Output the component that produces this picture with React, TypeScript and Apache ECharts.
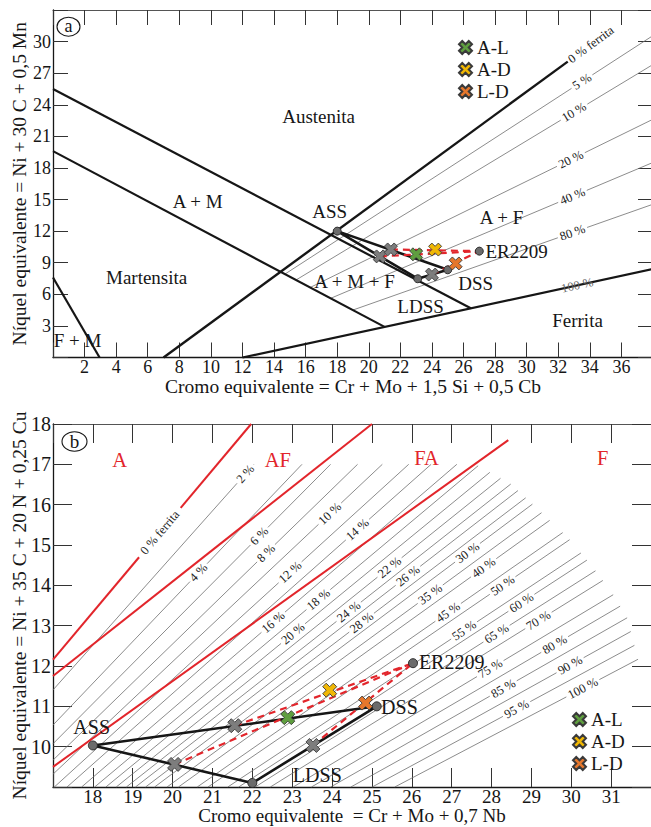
import React, { useEffect, useRef } from 'react';
import * as echarts from 'echarts';

const FONT = 'Liberation Serif';
const RED = '#e2252b';
const INK = '#161616';
const XMARK = 'path://M3,0L6,3L9,0L12,3L9,6L12,9L9,12L6,9L3,12L0,9L3,6L0,3Z';

// ================= (a) Schaeffler diagram =================
const A_X = { min: 0, max: 38, step: 2 };
const A_Y = { min: 0, max: 33, step: 3 };

const aLineFM = [[0, 7.6], [2.95, 0]];
const aLineAM = [[0, 19.6], [21.0, 2.91]];
const aLineA = [[0, 25.5], [26.46, 4.67]];
const aLineFerrite0 = [[7, 0], [32.6, 28.1]];
const aLineFerrite100 = [[12, 0], [38, 8.4]];
const aFerrite100LabelAt = [33.2, 6.85];

const aFerriteNames = ['5 %', '10 %', '20 %', '40 %', '80 %'];
const aFerriteStarts = [[14.7, 7.93], [15.4, 7.37], [16.3, 6.66], [17.6, 5.63], [19.0, 4.51]];
const aFerriteLabelPts = [[33.5, 26.2], [33.0, 23.3], [32.8, 18.8], [32.9, 15.3], [32.9, 11.86]];

const aASS = [18, 12];
const aDSS = [25.0, 8.33];
const aLDSS = [23.1, 7.48];
const aER = [27.0, 10.1];
const aMixAL = [20.7, 9.6];
const aMixAD = [21.4, 10.26];
const aMixLD = [24.0, 7.88];
const aAL = [23.0, 9.8];
const aAD = [24.2, 10.25];
const aLD = [25.5, 8.93];

const aTextNames = ['Austenita', 'A + M', 'Martensita', 'F + M', 'A + M + F', 'A + F', 'Ferrita', 'ASS', 'LDSS', 'DSS', 'ER2209'];
const aTextPos = [[16.82, 22.84], [9.16, 14.77], [5.93, 7.55], [1.56, 1.66], [19.1, 7.17], [28.41, 13.25], [33.22, 3.56], [17.52, 13.82], [23.28, 4.89], [26.77, 6.98], [29.36, 10.11]];

// ================= (b) WRC-1992 diagram =================
const B_X = { min: 17, max: 32, step: 1 };
const B_Y = { min: 9, max: 18, step: 1 };

const bRed0 = [[17, 12.16], [21.97, 18]];
const bRed0LabelAt = [19.68, 15.31];
const bRedAFFA = [[17, 11.75], [25, 18]];
const bRedFAF = [[17, 9.5], [28.42, 17.6]];

const bFnNames = ['2 %', '4 %', '6 %', '8 %', '10 %', '12 %', '14 %', '16 %', '18 %', '20 %', '22 %', '24 %', '26 %', '28 %', '30 %', '35 %', '40 %', '45 %', '50 %', '55 %', '60 %', '65 %', '70 %', '75 %', '80 %', '85 %', '90 %', '95 %', '100 %'];
const bFnSlopes = [1.11, 1.035, 0.995, 0.96, 0.93, 0.9, 0.876, 0.85, 0.828, 0.81, 0.794, 0.779, 0.766, 0.752, 0.74, 0.724, 0.71, 0.688, 0.676, 0.655, 0.644, 0.628, 0.614, 0.594, 0.579, 0.564, 0.549, 0.534, 0.519];
const bFnLabelPts = [[21.8, 16.78], [20.72, 14.25], [22.09, 15.3], [22.34, 14.8], [23.95, 15.77], [22.97, 14.3], [24.54, 15.49], [22.59, 13.01], [23.67, 13.63], [23.09, 12.72], [25.29, 14.63], [24.42, 13.34], [25.79, 14.38], [24.79, 13.01], [27.29, 14.95], [26.44, 13.81], [27.77, 14.48], [26.94, 13.29], [28.24, 14.05], [27.34, 12.84], [28.74, 13.58], [28.12, 12.81], [29.17, 13.14], [27.99, 11.9], [29.59, 12.52], [28.29, 11.45], [29.97, 12.02], [28.62, 10.95], [30.29, 11.45]];
const bFnPivot = [5.4, -1.47];
const bFnEndEnvelope = [[17, 17.0], [27.6, 17.0], [28.5, 16.5], [29.2, 15.85], [29.9, 15.2], [30.5, 14.5], [31.0, 13.85], [31.4, 13.2], [31.72, 12.0], [32, 11.0]];

const bASS = [18, 10.03];
const bDSS = [25.12, 11.0];
const bLDSS = [22.0, 9.1];
const bER = [26.03, 12.07];
const bMixAL = [20.05, 9.56];
const bMixAD = [21.56, 10.52];
const bMixLD = [23.52, 10.03];
const bAL = [22.89, 10.72];
const bAD = [23.94, 11.4];
const bLD = [24.84, 11.08];

const bRegionNames = ['A', 'AF', 'FA', 'F'];
const bRegionPos = [[18.67, 17.11], [22.64, 17.11], [26.37, 17.16], [30.79, 17.16]];
const bPointNames = ['ASS', 'LDSS', 'DSS', 'ER2209'];
const bPointPos = [[17.97, 10.48], [23.63, 9.29], [25.69, 10.98], [27.0, 12.09]];

const LEGEND_NAMES = ['A-L', 'A-D', 'L-D'];
const COL_AL = '#5f9e3f';
const COL_AD = '#f0b705';
const COL_LD = '#e5772c';

// ================= helpers =================
type Pt = number[];
type LL = { p0: Pt; p1: Pt; color: string; width: number; label?: string; at?: Pt; mode?: 'gap' | 'end' | 'over'; textColor?: string; fontSize?: number };

function textW(s: string, fs: number) {
  let w = 0;
  for (const ch of s) w += ch === ' ' ? 0.25 : ch === '%' ? 0.833 : /[0-9]/.test(ch) ? 0.5 : 0.42;
  return w * fs;
}

const seg = (data: Pt[], xi: number, yi: number, color: string, width: number, z: number, dashed = false) => ({
  type: 'line', xAxisIndex: xi, yAxisIndex: yi, data, symbol: 'none', silent: true, z,
  lineStyle: { color, width, type: dashed ? [7, 5] : 'solid', cap: 'butt', join: 'round' },
});

const marks = (name: string | undefined, data: Pt[], xi: number, yi: number, symbol: string, size: number, color: string, border: string, z: number) => ({
  type: 'scatter', name, xAxisIndex: xi, yAxisIndex: yi, data, symbol, symbolSize: size, silent: true, z,
  itemStyle: { color, borderColor: border, borderWidth: 0.9, opacity: 1 },
});

const texts = (names: string[], pos: Pt[], xi: number, yi: number, size: number, color: string, z: number) => ({
  type: 'custom', xAxisIndex: xi, yAxisIndex: yi, silent: true, z,
  data: pos.map((p) => [p[0], p[1]]),
  renderItem: (params: any, api: any) => {
    const c = api.coord([api.value(0), api.value(1)]);
    return { type: 'text', x: c[0], y: c[1], style: { text: names[params.dataIndex], fill: color, fontSize: size, fontFamily: FONT, align: 'center', verticalAlign: 'middle' } };
  },
});

const lineLabels = (items: LL[], xi: number, yi: number, z: number) => ({
  type: 'custom', xAxisIndex: xi, yAxisIndex: yi, silent: true, z,
  data: items.map((it) => [it.p0[0], it.p0[1]]),
  renderItem: (params: any, api: any) => {
    const it = items[params.dataIndex];
    const a = api.coord(it.p0);
    const b = api.coord(it.p1);
    const dx = b[0] - a[0], dy = b[1] - a[1];
    const len = Math.hypot(dx, dy);
    const ux = dx / len, uy = dy / len;
    const rot = Math.atan2(-dy, dx);
    const st = { stroke: it.color, lineWidth: it.width, lineCap: 'butt' };
    const mk = (t1: number, t2: number) => ({ type: 'line', shape: { x1: a[0] + ux * t1, y1: a[1] + uy * t1, x2: a[0] + ux * t2, y2: a[1] + uy * t2 }, style: st });
    const fs = it.fontSize ?? 12.5;
    const ts = (text: string, align: string) => ({ text, fill: it.textColor ?? '#222', fontSize: fs, fontFamily: FONT, align, verticalAlign: 'middle' });
    const children: any[] = [];
    if (!it.label) {
      children.push(mk(0, len));
    } else if (it.mode === 'end') {
      children.push(mk(0, len));
      children.push({ type: 'text', x: b[0] + ux * 2, y: b[1] + uy * 2, rotation: rot, style: ts(it.label, 'left') });
    } else {
      const c = api.coord(it.at);
      const t = (c[0] - a[0]) * ux + (c[1] - a[1]) * uy;
      if (it.mode === 'over') {
        children.push(mk(0, len));
      } else {
        const half = textW(it.label, fs) / 2 + 2.5;
        if (t - half > 0) children.push(mk(0, t - half));
        if (t + half < len) children.push(mk(t + half, len));
      }
      children.push({ type: 'text', x: a[0] + ux * t, y: a[1] + uy * t, rotation: rot, style: ts(it.label, 'center') });
    }
    return { type: 'group', children };
  },
});

function envY(x: number) {
  const e = bFnEndEnvelope;
  if (x <= e[0][0]) return e[0][1];
  for (let i = 1; i < e.length; i++) {
    if (x <= e[i][0]) {
      const [x0, y0] = e[i - 1];
      const [x1, y1] = e[i];
      return y0 + ((y1 - y0) * (x - x0)) / (x1 - x0);
    }
  }
  return e[e.length - 1][1];
}

function buildFnItems(): LL[] {
  const [px, py] = bFnPivot;
  return bFnNames.map((nm, i) => {
    const s = bFnSlopes[i];
    const f = (x: number) => py + s * (x - px);
    const p0 = f(B_X.min) >= B_Y.min ? [B_X.min, f(B_X.min)] : [px + (B_Y.min - py) / s, B_Y.min];
    let lo = bFnLabelPts[i][0];
    let hi = B_X.max;
    let xe = hi;
    if (f(hi) > envY(hi)) {
      for (let k = 0; k < 50; k++) {
        const m = (lo + hi) / 2;
        if (f(m) > envY(m)) hi = m; else lo = m;
      }
      xe = (lo + hi) / 2;
    }
    return { p0, p1: [xe, f(xe)], color: '#6e6e6e', width: 0.8, label: nm, at: bFnLabelPts[i], mode: 'gap' as const, fontSize: 12.5 };
  });
}

function buildAFerriteItems(): LL[] {
  const items: LL[] = aFerriteNames.map((nm, i) => {
    const s0 = aFerriteStarts[i];
    const l = aFerriteLabelPts[i];
    const k = (l[1] - s0[1]) / (l[0] - s0[0]);
    return { p0: s0, p1: [A_X.max, l[1] + k * (A_X.max - l[0])], color: '#6e6e6e', width: 0.8, label: nm, at: l, mode: 'gap' as const, fontSize: 12.5 };
  });
  items.push({ p0: aLineFerrite0[0], p1: aLineFerrite0[1], color: INK, width: 2.4, label: '0 % ferrita', mode: 'end', fontSize: 12.5 });
  items.push({ p0: aLineFerrite100[0], p1: aLineFerrite100[1], color: INK, width: 2.2, label: '100 %', at: aFerrite100LabelAt, mode: 'over', textColor: '#666', fontSize: 12.5 });
  return items;
}

const tickFmt = (min: number, max: number, showMax: boolean) => (v: number) =>
  v <= min + 1e-9 || (!showMax && v >= max - 1e-9) ? '' : String(v);

function xAxisPair(gi: number, r: { min: number; max: number; step: number }, name: string, tickLen: number, fs: number, margin: number, gap: number, nameSize: number) {
  return [
    {
      gridIndex: gi, type: 'value', min: r.min, max: r.max, interval: r.step, position: 'bottom',
      axisLine: { onZero: false, lineStyle: { color: INK, width: 1.3 } },
      axisTick: { inside: true, length: tickLen, lineStyle: { color: '#333', width: 1 } },
      axisLabel: { interval: 0, margin, fontSize: fs, color: INK, fontFamily: FONT, formatter: tickFmt(r.min, r.max, false) },
      splitLine: { show: false },
      name, nameLocation: 'middle', nameGap: gap, nameMoveOverlap: false,
      nameTextStyle: { fontSize: nameSize, color: INK, fontFamily: FONT },
    },
    {
      gridIndex: gi, type: 'value', min: r.min, max: r.max, interval: r.step, position: 'top',
      axisLine: { onZero: false, lineStyle: { color: '#555', width: 1 } },
      axisTick: { inside: true, length: tickLen, lineStyle: { color: '#333', width: 1 } },
      axisLabel: { show: false }, splitLine: { show: false },
    },
  ];
}

function yAxisPair(gi: number, r: { min: number; max: number; step: number }, name: string, tickLen: number, fs: number, showMax: boolean) {
  return [
    {
      gridIndex: gi, type: 'value', min: r.min, max: r.max, interval: r.step, position: 'left',
      axisLine: { onZero: false, lineStyle: { color: INK, width: 1.3 } },
      axisTick: { inside: true, length: tickLen, lineStyle: { color: '#333', width: 1 } },
      axisLabel: { interval: 0, margin: 2, fontSize: fs, color: INK, fontFamily: FONT, formatter: tickFmt(r.min, r.max, showMax) },
      splitLine: { show: false },
      name, nameLocation: 'middle', nameGap: 24, nameMoveOverlap: false,
      nameTextStyle: { fontSize: 19.5, color: INK, fontFamily: FONT },
    },
    {
      gridIndex: gi, type: 'value', min: r.min, max: r.max, interval: r.step, position: 'right',
      axisLine: { onZero: false, lineStyle: { color: '#555', width: 1 } },
      axisTick: { inside: true, length: tickLen, lineStyle: { color: '#333', width: 1 } },
      axisLabel: { show: false }, splitLine: { show: false },
    },
  ];
}

function buildOption() {
  const series: any[] = [
    // ---------- (a) ----------
    lineLabels(buildAFerriteItems(), 0, 0, 3),
    seg(aLineFM, 0, 0, INK, 2.2, 4),
    seg(aLineAM, 0, 0, INK, 2.2, 4),
    seg(aLineA, 0, 0, INK, 2.2, 4),
    seg([aASS, aDSS, aLDSS, aASS], 0, 0, INK, 2.6, 5),
    seg([aMixAL, aER], 0, 0, RED, 2.2, 6, true),
    seg([aMixAD, aER], 0, 0, RED, 2.2, 6, true),
    seg([aMixLD, aER], 0, 0, RED, 2.2, 6, true),
    marks(undefined, [aASS, aDSS, aLDSS, aER], 0, 0, 'circle', 8, '#6b6b6b', '#222', 7),
    marks(undefined, [aMixAL, aMixAD, aMixLD], 0, 0, XMARK, 13, '#7d7d7d', '#3a3a3a', 7),
    marks('A-L', [aAL], 0, 0, XMARK, 13, COL_AL, '#3a3a3a', 8),
    marks('A-D', [aAD], 0, 0, XMARK, 13, COL_AD, '#3a3a3a', 8),
    marks('L-D', [aLD], 0, 0, XMARK, 13, COL_LD, '#3a3a3a', 8),
    texts(aTextNames, aTextPos, 0, 0, 19, INK, 9),
    // ---------- (b) ----------
    lineLabels(buildFnItems(), 2, 2, 3),
    lineLabels([{ p0: bRed0[0], p1: bRed0[1], color: RED, width: 2, label: '0 % ferrita', at: bRed0LabelAt, mode: 'gap', fontSize: 12.5 }], 2, 2, 4),
    seg(bRedAFFA, 2, 2, RED, 2, 4),
    seg(bRedFAF, 2, 2, RED, 2, 4),
    seg([bASS, bDSS, bLDSS, bASS], 2, 2, INK, 2.6, 5),
    seg([bMixAL, bER], 2, 2, RED, 2.2, 6, true),
    seg([bMixAD, bER], 2, 2, RED, 2.2, 6, true),
    seg([bMixLD, bER], 2, 2, RED, 2.2, 6, true),
    marks(undefined, [bASS, bDSS, bLDSS, bER], 2, 2, 'circle', 9, '#6b6b6b', '#222', 7),
    marks(undefined, [bMixAL, bMixAD, bMixLD], 2, 2, XMARK, 14, '#7d7d7d', '#3a3a3a', 7),
    marks('A-L', [bAL], 2, 2, XMARK, 14, COL_AL, '#3a3a3a', 8),
    marks('A-D', [bAD], 2, 2, XMARK, 14, COL_AD, '#3a3a3a', 8),
    marks('L-D', [bLD], 2, 2, XMARK, 14, COL_LD, '#3a3a3a', 8),
    texts(bRegionNames, bRegionPos, 2, 2, 20.5, RED, 9),
    texts(bPointNames, bPointPos, 2, 2, 20, INK, 9),
  ];

  const legendBase = {
    data: LEGEND_NAMES, orient: 'vertical', icon: XMARK, itemWidth: 13, itemHeight: 13, itemGap: 3,
    selectedMode: false, textStyle: { fontSize: 19, fontFamily: FONT, color: INK },
  };

  return {
    animation: false,
    backgroundColor: '#ffffff',
    textStyle: { fontFamily: FONT },
    grid: [
      { left: 53, top: 10, width: 600, height: 347.5, outerBoundsMode: 'none', containLabel: false },
      { left: 53, top: 424, width: 598, height: 363, outerBoundsMode: 'none', containLabel: false },
    ],
    xAxis: [
      ...xAxisPair(0, A_X, 'Cromo equivalente = Cr + Mo + 1,5 Si + 0,5 Cb', 15, 18, 0, 19, 19.5),
      ...xAxisPair(1, B_X, 'Cromo equivalente  = Cr + Mo + 0,7 Nb', 19, 19, 0, 19, 19),
    ],
    yAxis: [
      ...yAxisPair(0, A_Y, 'Níquel equivalente = Ni + 30 C + 0,5 Mn', 15, 18, false),
      ...yAxisPair(1, B_Y, 'Níquel equivalente = Ni + 35 C + 20 N + 0,25 Cu', 19, 20, true),
    ],
    legend: [
      { ...legendBase, left: 453, top: 33 },
      { ...legendBase, left: 567, top: 705 },
    ],
    graphic: [
      { type: 'ellipse', shape: { cx: 68.5, cy: 26.7, rx: 11.5, ry: 9.5 }, style: { fill: 'none', stroke: INK, lineWidth: 1.1 }, z: 10 },
      { type: 'text', x: 68.5, y: 26, style: { text: 'a', fontSize: 18, fontFamily: FONT, fill: INK, align: 'center', verticalAlign: 'middle' }, z: 10 },
      { type: 'ellipse', shape: { cx: 74.5, cy: 441.5, rx: 12.5, ry: 9.8 }, style: { fill: 'none', stroke: INK, lineWidth: 1.1 }, z: 10 },
      { type: 'text', x: 74.5, y: 441, style: { text: 'b', fontSize: 19, fontFamily: FONT, fill: INK, align: 'center', verticalAlign: 'middle' }, z: 10 },
    ],
    series,
  };
}

export default function App() {
  const ref = useRef<HTMLDivElement>(null);
  useEffect(() => {
    if (!ref.current) return;
    const chart = echarts.init(ref.current, undefined, { renderer: 'svg' });
    chart.setOption(buildOption() as any);
    return () => chart.dispose();
  }, []);
  return <div ref={ref} style={{ position: 'absolute', left: 0, top: 0, width: 651, height: 827, background: '#fff' }} />;
}
